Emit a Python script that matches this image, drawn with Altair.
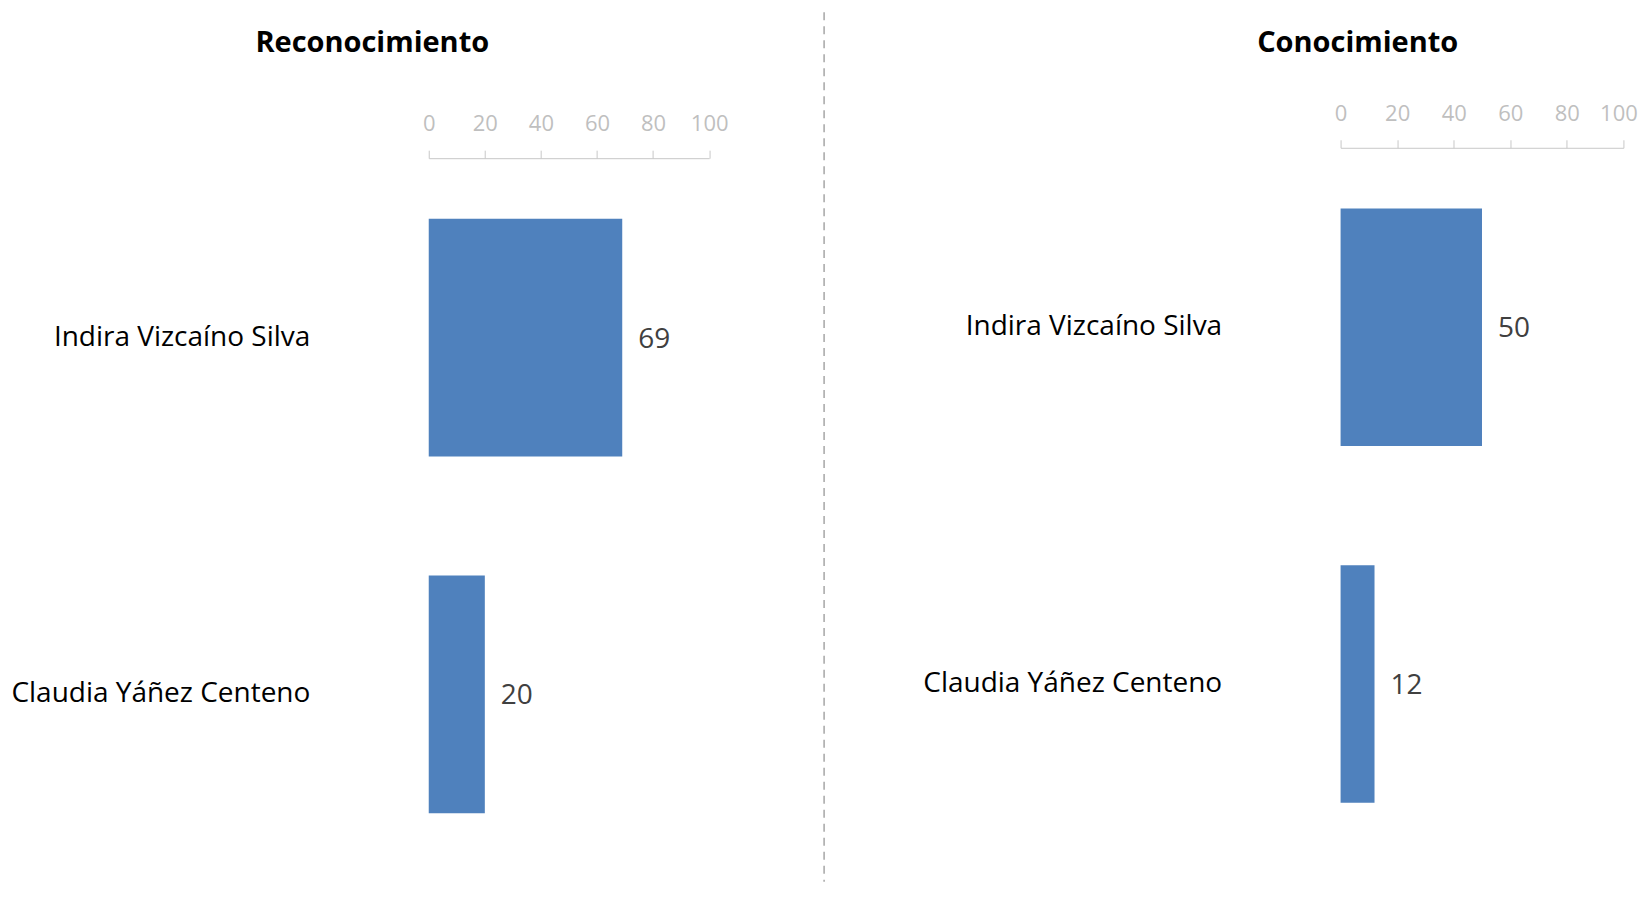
import altair as alt
import pandas as pd

candidatos = ["Indira Vizcaíno Silva", "Claudia Yáñez Centeno"]
reconocimiento = [69, 20]
conocimiento = [50, 12]
titulos = ["Reconocimiento", "Conocimiento"]
ticks = [0, 20, 40, 60, 80, 100]

df = pd.DataFrame({"candidato": candidatos, "reconocimiento": reconocimiento, "conocimiento": conocimiento})

BLUE = "#4f81bd"
FONT = "Open Sans"


def panel(field, title, width, yrange, axis_offset, title_x, label_pad, last_shift=0, extra=None):
    label_offset = {"condition": {"test": "datum.value == 100", "value": last_shift}, "value": 0}
    x_axis = alt.Axis(orient="top", values=ticks, title=None, grid=False,
                      labelFont=FONT, labelFontSize=22, labelColor="#bfbfbf",
                      tickColor="#c8c8c8", domainColor="#c8c8c8", tickSize=8,
                      labelPadding=label_pad, labelFlush=False, labelOverlap=False,
                      labelOffset=label_offset, offset=axis_offset)
    y_axis = alt.Axis(title=None, ticks=False, domain=False, tickSize=0,
                      labelPadding=119, labelFont=FONT, labelFontSize=28,
                      labelColor="#000000", labelLimit=600)
    x = alt.X(f"{field}:Q", scale=alt.Scale(domain=[0, 100], nice=False), axis=x_axis)
    y = alt.Y("candidato:N", sort=candidatos,
              scale=alt.Scale(range=yrange, paddingInner=0.334, paddingOuter=0.17),
              axis=y_axis)
    base = alt.Chart(df)
    bars = base.mark_bar(color=BLUE).encode(x=x, y=y)
    labels = base.mark_text(align="left", baseline="middle", dx=16, dy=2,
                            font=FONT, fontSize=28, color="#404040").encode(
        x=alt.X(f"{field}:Q"), y=alt.Y("candidato:N", sort=candidatos),
        text=alt.Text(f"{field}:Q"))
    tdf = pd.DataFrame({"t": [title]})
    ttl = alt.Chart(tdf).mark_text(font=FONT, fontWeight="bold", fontSize=29,
                                   color="#000000", align="center", baseline="middle").encode(
        x=alt.value(title_x), y=alt.value(-115.6), text="t:N")
    layers = [bars, labels, ttl]
    if extra:
        layers += extra
    return alt.layer(*layers).properties(width=width, height=716)


one = pd.DataFrame({"k": [0]})
sep = alt.Chart(one).mark_rule(color="#a6a6a6", strokeWidth=1.5, strokeDash=[8, 6]).encode(
    x=alt.value(395.6), y=alt.value(-146), y2=alt.value(724))
anchor = alt.Chart(one).mark_rect(opacity=0).encode(
    x=alt.value(-420.7), x2=alt.value(-415), y=alt.value(-149.7), y2=alt.value(-145))

left = panel("reconocimiento", titulos[0], 280.6, [0, 716.1], 0, -56.5, 15, 0, [sep, anchor])
right = panel("conocimiento", titulos[1], 283, [-10.4, 705.7], 10.4, 17.1, 14.5, -5)

chart = alt.hconcat(left, right, spacing=631.4, bounds="flush").resolve_scale(
    x="independent", y="independent").properties(
    padding={"left": 0, "top": 0, "right": 0, "bottom": 0}
).configure_view(stroke=None)

chart.save("out.html", embed_options={"renderer": "svg", "actions": False})
